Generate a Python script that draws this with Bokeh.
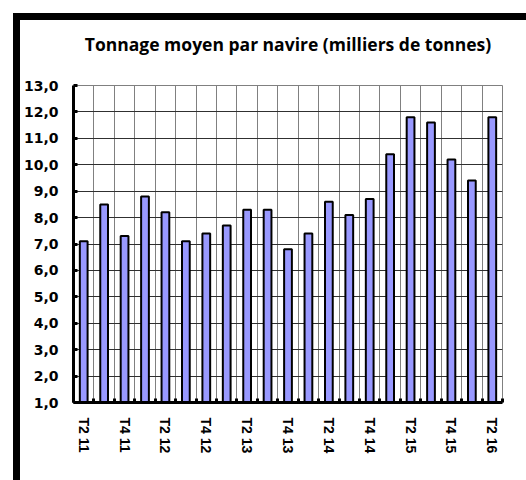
from bokeh.plotting import figure
from bokeh.models import Range1d, FixedTicker, Title
from bokeh.layouts import column
from bokeh.embed import file_html
from bokeh.resources import INLINE

categories = ["T2 11", "T3 11", "T4 11", "T1 12", "T2 12", "T3 12", "T4 12",
              "T1 13", "T2 13", "T3 13", "T4 13", "T1 14", "T2 14", "T3 14",
              "T4 14", "T1 15", "T2 15", "T3 15", "T4 15", "T1 16", "T2 16"]
tonnage = [7.1, 8.5, 7.3, 8.8, 8.2, 7.1, 7.4, 7.7, 8.3, 8.3, 6.8, 7.4,
           8.6, 8.1, 8.7, 10.4, 11.8, 11.6, 10.2, 9.4, 11.8]
y_ticks = [1, 2, 3, 4, 5, 6, 7, 8, 9, 10, 11, 12, 13]
y_tick_labels = ["1,0", "2,0", "3,0", "4,0", "5,0", "6,0", "7,0", "8,0",
                 "9,0", "10,0", "11,0", "12,0", "13,0"]
title_text = "Tonnage moyen par navire (milliers de tonnes)"

n = len(categories)
xs = list(range(n))

p = figure(width=506, height=460, output_backend="svg", toolbar_location=None,
           title=None,
           x_range=Range1d(-0.5, n - 0.5), y_range=Range1d(y_ticks[0], y_ticks[-1]),
           min_border_left=53, min_border_right=24, min_border_top=65,
           min_border_bottom=78)
p.background_fill_color = "white"
p.border_fill_color = "white"
p.outline_line_color = "#808080"

# spacer between the plot area and the title
p.add_layout(Title(text=" ", text_font_size="1px", standoff=27), "above")
p.add_layout(Title(text=title_text, align="center", text_font="Open Sans",
                   text_font_style="bold", text_font_size="17.5px",
                   text_color="black", standoff=0), "above")

p.vbar(x=xs, top=tonnage, bottom=y_ticks[0], width=0.38,
       fill_color="#9999FF", line_color="black", line_width=2)

boundaries = [i - 0.5 for i in range(n + 1)]
label_pos = xs[::2]

xa = p.xaxis[0]
xa.ticker = FixedTicker(ticks=label_pos, minor_ticks=boundaries)
xa.major_label_overrides = {i: categories[i] for i in label_pos}
xa.major_label_orientation = "vertical"
xa.major_label_text_font = "Liberation Sans"
xa.major_label_text_font_style = "bold"
xa.major_label_text_font_size = "14px"
xa.major_label_text_color = "black"
xa.major_label_standoff = 9
xa.axis_line_width = 3
xa.axis_line_color = "black"
xa.major_tick_line_color = None
xa.minor_tick_in = 4
xa.minor_tick_out = 0
xa.minor_tick_line_width = 3
xa.minor_tick_line_color = "black"

ya = p.yaxis[0]
ya.ticker = FixedTicker(ticks=y_ticks, minor_ticks=[])
ya.major_label_overrides = {t: l for t, l in zip(y_ticks, y_tick_labels)}
ya.major_label_text_font = "DejaVu Sans"
ya.major_label_text_font_style = "bold"
ya.major_label_text_font_size = "14px"
ya.major_label_text_color = "black"
ya.major_label_standoff = 15
ya.axis_line_width = 3
ya.axis_line_color = "black"
ya.major_tick_in = 4
ya.major_tick_out = 0
ya.major_tick_line_width = 3
ya.major_tick_line_color = "black"

p.xgrid.ticker = FixedTicker(ticks=boundaries[1:-1])
p.xgrid.grid_line_color = "#808080"
p.xgrid.grid_line_width = 1
p.ygrid.ticker = FixedTicker(ticks=y_ticks)
p.ygrid.grid_line_color = "#303030"
p.ygrid.grid_line_width = 1

layout = column(p, margin=(13, 0, 0, 13),
                styles={"border-left": "7px solid black",
                        "border-top": "7px solid black",
                        "background-color": "white"})

open("out.html", "w").write(file_html(layout, INLINE))
